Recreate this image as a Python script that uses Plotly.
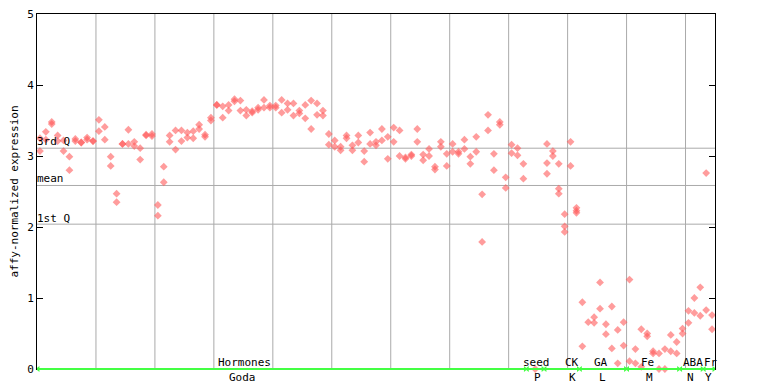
import plotly.graph_objects as go

# ---- data (sample index -> replicate values) ----
rep_a = [3.25, 3.34, 3.48, 3.29, 3.07, 2.99, 3.24, 3.19, 3.26, 3.21,
         3.51, 3.41, 2.99, 2.47, 3.17, 3.37, 3.20, 3.11, 3.30, 3.31,
         2.31, 2.85, 3.29, 3.36, 3.36, 3.33, 3.35, 3.44, 3.30, 3.54,
         3.72, 3.70, 3.72, 3.80, 3.78, 3.65, 3.63, 3.68, 3.79, 3.71,
         3.71, 3.79, 3.74, 3.74, 3.64, 3.72, 3.78, 3.74, 3.64, 3.31,
         3.22, 3.13, 3.29, 3.15, 3.29, 3.07, 3.33, 3.20, 3.38, 3.27,
         3.40, 3.36, 2.98, 3.02, 3.38, 3.02, 3.10, 2.85, 3.20, 3.03,
         3.17, 3.06, 3.23, 2.99, 3.27, 2.46, 3.58, 3.03, 3.48, 2.70,
         3.16, 3.11, 2.89, None, 0.0, None, 3.17, 3.07, 2.89, 2.18,
         3.20, 2.27, 0.94, 0.66, 0.73, 1.22, 0.63, 0.88, 0.55, 0.66,
         1.26, 0.28, 0.56, 0.50, 0.25, 0.22, 0.28, 0.48, 0.38, 0.57,
         0.82, 1.00, 1.15, 2.76, 0.76]
rep_b = [3.07, 3.23, 3.45, 3.21, 3.22, 2.80, 3.21, 3.19, 3.23, 3.21,
         3.35, 3.23, 2.86, 2.35, 3.17, 3.17, 3.14, 2.95, 3.29, 3.28,
         2.16, 2.63, 3.20, 3.09, 3.21, 3.26, 3.25, 3.38, 3.27, 3.50,
         3.72, 3.54, 3.64, 3.77, 3.64, 3.57, 3.61, 3.65, 3.68, 3.68,
         3.68, 3.61, 3.65, 3.57, 3.60, 3.53, 3.38, 3.58, 3.57, 3.16,
         3.13, 3.08, 3.25, 3.08, 3.19, 2.92, 3.17, 3.15, 3.22, 2.96,
         3.20, 3.00, 2.96, 3.00, 3.20, 2.94, 3.00, 2.81, 3.13, 2.86,
         3.06, 3.03, 3.10, 2.89, 3.06, 1.79, 3.36, 2.80, 3.44, 2.55,
         3.04, 3.01, 2.68, None, None, None, 2.90, 3.00, 2.54, 2.01,
         2.86, 2.23, 0.32, None, 0.65, 0.85, 0.49, 0.29, 0.08, 0.33,
         0.11, 0.08, 0.03, 0.46, 0.22, 0.0, 0.0, 0.25, 0.22, 0.50,
         0.65, 0.79, 0.75, 0.83, 0.56]
rep_c = {86: 2.75, 88: 2.47, 89: 1.93, 91: 2.20}

quartiles = {"3rd Q": 3.11, "mean": 2.585, "1st Q": 2.04}
quart_label_y = {"3rd Q": 3.20, "mean": 2.69, "1st Q": 2.12}

groups_top = ["Hormones", "seed", "CK", "GA", "Fe", "ABA", "Fr"]
groups_bottom = ["Goda", "P", "K", "L", "M", "N", "Y"]
group_top_x = [34.7, 84.2, 90.2, 95.1, 103.0, 110.8, 113.9]
group_bot_x = [34.4, 84.4, 90.3, 95.4, 103.4, 110.3, 113.4]
group_start = [0, 83, 86, 92, 100, 109, 113]
group_end = [82, 85, 91, 99, 108, 112, 114]

y_ticks = [0, 1, 2, 3, 4, 5]

FONT = "DejaVu Sans Mono"
PLOT_H = 384 - 14 - 15

xs, ys = [], []
for i, v in enumerate(rep_a):
    if v is not None:
        xs.append(i); ys.append(v)
for i, v in enumerate(rep_b):
    if v is not None:
        xs.append(i); ys.append(v)
for i, v in rep_c.items():
    xs.append(i); ys.append(v)

fig = go.Figure()

# vertical grid lines
for k in range(1, 12):
    fig.add_shape(type="line", x0=10 * k - 0.5, x1=10 * k - 0.5, y0=0, y1=5,
                  xref="x", yref="y", line=dict(color="#aaaaaa", width=1), layer="below")
# quartile lines
for name, val in quartiles.items():
    fig.add_shape(type="line", x0=-0.5, x1=114.5, y0=val, y1=val, xref="x", yref="y",
                  line=dict(color="#aaaaaa", width=1), layer="below")
    fig.add_annotation(x=0, xref="paper", y=quart_label_y[name], yref="y", text=name,
                       showarrow=False, xanchor="left", yanchor="middle", xshift=-2,
                       font=dict(family=FONT, size=11, color="black"))

fig.add_trace(go.Scatter(x=xs, y=ys, mode="markers", cliponaxis=False,
                         marker=dict(symbol="diamond", size=6,
                                     color="rgba(255,90,90,0.6)",
                                     line=dict(width=0)),
                         hoverinfo="skip", showlegend=False))

# green group line along the bottom axis (paper refs -> not clipped)
fig.add_shape(type="line", x0=0, x1=1, y0=0, y1=0, xref="paper", yref="paper",
              line=dict(color="#44ff44", width=2), layer="above")
fig.add_trace(go.Scatter(x=[s - 0.3 for s in group_start], y=[0] * len(group_start),
                         mode="markers", cliponaxis=False,
                         marker=dict(symbol="triangle-left", size=5, color="#44ff44"),
                         hoverinfo="skip", showlegend=False))
fig.add_trace(go.Scatter(x=[e + 0.3 for e in group_end], y=[0] * len(group_end),
                         mode="markers", cliponaxis=False,
                         marker=dict(symbol="triangle-right", size=5, color="#44ff44"),
                         hoverinfo="skip", showlegend=False))

for t, x in zip(groups_top, group_top_x):
    fig.add_annotation(x=x, y=7 / PLOT_H, xref="x", yref="paper", text=t, showarrow=False,
                       xanchor="center", yanchor="middle",
                       font=dict(family=FONT, size=11, color="black"))
for t, x in zip(groups_bottom, group_bot_x):
    fig.add_annotation(x=x, y=-8 / PLOT_H, xref="x", yref="paper", text=t, showarrow=False,
                       xanchor="center", yanchor="middle",
                       font=dict(family=FONT, size=11, color="black"))

fig.update_layout(
    width=768, height=384,
    margin=dict(l=37, r=53, t=14, b=15, autoexpand=False),
    paper_bgcolor="white", plot_bgcolor="white",
    font=dict(family=FONT, size=11, color="black"),
    xaxis=dict(range=[-0.5, 114.5], showgrid=False, zeroline=False, automargin=False,
               showticklabels=False, ticks="", showline=True, linecolor="black",
               linewidth=1, mirror=True),
    yaxis=dict(range=[0, 5], tickvals=y_ticks, ticktext=[str(t) for t in y_ticks],
               showgrid=False, zeroline=False, ticks="inside", ticklen=6, automargin=False,
               tickcolor="black", showline=True, linecolor="black", linewidth=1,
               mirror="ticks",
               title=dict(text="affy-normalized expression", standoff=6,
                          font=dict(family=FONT, size=11))),
)

fig.write_html("out.html", config={"displayModeBar": False, "staticPlot": True})

# remove the browser's default page margin so the figure sits at (0, 0)
with open("out.html", "r", encoding="utf-8") as f:
    html = f.read()
html = html.replace("<head>", "<head><style>html,body{margin:0;padding:0;overflow:hidden;}</style>", 1)
with open("out.html", "w", encoding="utf-8") as f:
    f.write(html)
